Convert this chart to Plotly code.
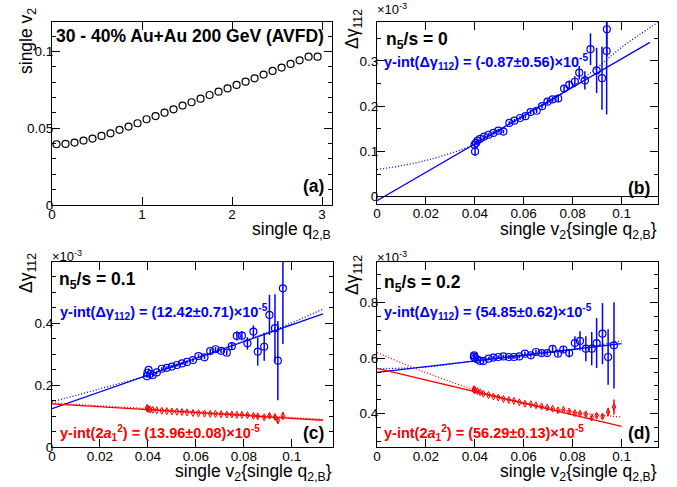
import plotly.graph_objects as go

W, H = 677, 487
FONT = "Liberation Sans, Arial, sans-serif"
BLUE = "rgb(0,0,255)"
RED = "rgb(255,0,0)"

# ---------------- panel (a) ----------------
q2B = [0.05, 0.15, 0.25, 0.35, 0.45, 0.55, 0.65, 0.75, 0.85, 0.95,
       1.05, 1.15, 1.25, 1.35, 1.45, 1.55, 1.65, 1.75, 1.85, 1.95,
       2.05, 2.15, 2.25, 2.35, 2.45, 2.55, 2.65, 2.75, 2.85, 2.95]
v2_a = [0.0396, 0.0398, 0.0407, 0.0420, 0.0433, 0.0450, 0.0467, 0.0490, 0.0511, 0.0533,
        0.0559, 0.0580, 0.0602, 0.0624, 0.0648, 0.0670, 0.0693, 0.0717, 0.0739, 0.0760,
        0.0783, 0.0804, 0.0826, 0.0850, 0.0874, 0.0896, 0.0920, 0.0943, 0.0967, 0.0967]

# ---------------- panel (b) n5/s = 0 (units of 1e-3) ----------------
x_b = [0.0399, 0.0401, 0.0405, 0.0411, 0.0422, 0.0438, 0.0456, 0.0476, 0.0496, 0.0517,
       0.0541, 0.0562, 0.0585, 0.0607, 0.0628, 0.0653, 0.0675, 0.0697, 0.0718, 0.0741,
       0.0765, 0.0786, 0.0809, 0.0827, 0.0850, 0.0873, 0.0898, 0.0920, 0.0939, 0.0940]
dg_b = [0.115, 0.100, 0.119, 0.124, 0.128, 0.133, 0.137, 0.141, 0.146, 0.144,
        0.163, 0.168, 0.174, 0.178, 0.187, 0.190, 0.200, 0.210, 0.215, 0.217,
        0.239, 0.247, 0.254, 0.274, 0.257, 0.326, 0.279, 0.262, 0.322, 0.370]
dg_b_err = [0.004, 0.010, 0.004, 0.004, 0.004, 0.004, 0.004, 0.004, 0.004, 0.004,
            0.004, 0.004, 0.004, 0.005, 0.005, 0.005, 0.005, 0.006, 0.006, 0.008,
            0.008, 0.010, 0.012, 0.015, 0.020, 0.035, 0.050, 0.070, 0.140, 0.060]
fit_b_lin_x = [0.0, 0.1116]
fit_b_lin_y = [-0.0087, 0.341]
fit_b_curve_x = [0.0, 0.02, 0.04, 0.05, 0.06, 0.07, 0.08, 0.09, 0.10, 0.1148]
fit_b_curve_y = [0.060, 0.080, 0.116, 0.146, 0.177, 0.209, 0.244, 0.285, 0.330, 0.385]

# ---------------- panel (c) n5/s = 0.1 ----------------
x_c = [0.0396, 0.0398, 0.0403, 0.0410, 0.0420, 0.0437, 0.0458, 0.0479, 0.0500, 0.0521,
       0.0542, 0.0563, 0.0588, 0.0611, 0.0636, 0.0660, 0.0682, 0.0705, 0.0729, 0.0750,
       0.0771, 0.0792, 0.0815, 0.0840, 0.0858, 0.0885, 0.0907, 0.0930, 0.0942, 0.0963]
dg_c = [0.229, 0.240, 0.249, 0.236, 0.232, 0.241, 0.253, 0.256, 0.260, 0.265,
        0.270, 0.275, 0.281, 0.294, 0.290, 0.310, 0.316, 0.311, 0.305, 0.326,
        0.359, 0.360, 0.335, 0.373, 0.308, 0.324, 0.427, 0.384, 0.279, 0.513]
dg_c_err = [0.005, 0.005, 0.005, 0.005, 0.005, 0.005, 0.005, 0.005, 0.005, 0.005,
            0.005, 0.005, 0.006, 0.006, 0.006, 0.007, 0.007, 0.008, 0.008, 0.010,
            0.015, 0.015, 0.020, 0.020, 0.045, 0.045, 0.065, 0.110, 0.128, 0.180]
a1_c = [0.126, 0.124, 0.123, 0.121, 0.120, 0.119, 0.117, 0.116, 0.115, 0.114,
        0.113, 0.112, 0.110, 0.109, 0.108, 0.107, 0.107, 0.106, 0.105, 0.105,
        0.104, 0.104, 0.103, 0.101, 0.099, 0.096, 0.101, 0.097, 0.086, 0.101]
a1_c_err = [0.002, 0.002, 0.002, 0.002, 0.002, 0.002, 0.002, 0.002, 0.002, 0.002,
            0.002, 0.002, 0.002, 0.002, 0.002, 0.003, 0.003, 0.003, 0.003, 0.003,
            0.003, 0.004, 0.004, 0.004, 0.005, 0.005, 0.006, 0.008, 0.010, 0.012]
fit_c_dg_lin_x = [0.0, 0.113]
fit_c_dg_lin_y = [0.1242, 0.430]
fit_c_dg_curve_x = [0.0, 0.02, 0.04, 0.06, 0.08, 0.095, 0.113]
fit_c_dg_curve_y = [0.146, 0.188, 0.232, 0.286, 0.342, 0.385, 0.446]
fit_c_a1_lin_x = [0.0, 0.113]
fit_c_a1_lin_y = [0.1396, 0.0865]
fit_c_a1_curve_x = [0.0, 0.04, 0.113]
fit_c_a1_curve_y = [0.142, 0.124, 0.089]

# ---------------- panel (d) n5/s = 0.2 ----------------
x_d = [0.0396, 0.0397, 0.0401, 0.0411, 0.0422, 0.0435, 0.0456, 0.0476, 0.0496, 0.0517,
       0.0539, 0.0560, 0.0582, 0.0605, 0.0629, 0.0650, 0.0673, 0.0696, 0.0718, 0.0740,
       0.0762, 0.0786, 0.0809, 0.0830, 0.0854, 0.0878, 0.0898, 0.0922, 0.0945, 0.0969]
dg_d = [0.605, 0.610, 0.600, 0.595, 0.590, 0.590, 0.598, 0.602, 0.604, 0.606,
        0.604, 0.604, 0.606, 0.616, 0.610, 0.622, 0.618, 0.618, 0.633, 0.616,
        0.631, 0.618, 0.654, 0.662, 0.634, 0.634, 0.654, 0.688, 0.604, 0.646]
dg_d_err = [0.006, 0.006, 0.006, 0.006, 0.006, 0.006, 0.006, 0.006, 0.006, 0.006,
            0.007, 0.007, 0.007, 0.008, 0.008, 0.008, 0.009, 0.009, 0.010, 0.010,
            0.012, 0.015, 0.025, 0.035, 0.045, 0.060, 0.090, 0.110, 0.100, 0.155]
a1_d = [0.488, 0.486, 0.484, 0.481, 0.477, 0.472, 0.467, 0.462, 0.458, 0.453,
        0.449, 0.446, 0.441, 0.436, 0.434, 0.430, 0.426, 0.422, 0.418, 0.412,
        0.414, 0.408, 0.402, 0.400, 0.398, 0.386, 0.393, 0.390, 0.406, 0.424]
a1_d_err = [0.003, 0.003, 0.003, 0.003, 0.003, 0.003, 0.003, 0.003, 0.003, 0.003,
            0.003, 0.003, 0.003, 0.003, 0.003, 0.003, 0.004, 0.004, 0.004, 0.004,
            0.004, 0.005, 0.005, 0.005, 0.006, 0.006, 0.007, 0.008, 0.015, 0.027]
fit_d_dg_lin_x = [0.0, 0.1]
fit_d_dg_lin_y = [0.5485, 0.652]
fit_d_dg_curve_x = [0.0, 0.02, 0.04, 0.06, 0.08, 0.1]
fit_d_dg_curve_y = [0.562, 0.568, 0.590, 0.608, 0.630, 0.662]
fit_d_a1_lin_x = [0.0, 0.1]
fit_d_a1_lin_y = [0.5629, 0.354]
fit_d_a1_curve_x = [0.0, 0.02, 0.04, 0.06, 0.08, 0.1]
fit_d_a1_curve_y = [0.620, 0.548, 0.486, 0.440, 0.407, 0.388]

fig = go.Figure()


def pts(x, y, err, color, sym, size, xa, ya, lw=1.2):
    kw = {}
    if err is not None:
        kw["error_y"] = dict(type="data", array=err, color=color, thickness=1.5, width=0)
    fig.add_trace(go.Scatter(x=x, y=y, mode="markers", xaxis=xa, yaxis=ya,
                             marker=dict(symbol=sym, size=size, color=color,
                                         line=dict(width=lw, color=color)),
                             showlegend=False, **kw))


def line(x, y, color, dash, xa, ya, shape="linear"):
    fig.add_trace(go.Scatter(x=x, y=y, mode="lines", xaxis=xa, yaxis=ya,
                             line=dict(color=color, width=1.3, dash=dash, shape=shape),
                             showlegend=False, hoverinfo="skip"))


DOT = "1px,2px"
# (a)
pts(q2B, v2_a, None, "black", "circle-open", 7, "x", "y")
# (b)
line(fit_b_curve_x, fit_b_curve_y, BLUE, DOT, "x2", "y2", "spline")
line(fit_b_lin_x, fit_b_lin_y, BLUE, "solid", "x2", "y2")
pts(x_b, dg_b, dg_b_err, BLUE, "circle-open", 7, "x2", "y2")
# (c)
line(fit_c_dg_curve_x, fit_c_dg_curve_y, BLUE, DOT, "x3", "y3", "spline")
line(fit_c_dg_lin_x, fit_c_dg_lin_y, BLUE, "solid", "x3", "y3")
line(fit_c_a1_curve_x, fit_c_a1_curve_y, RED, DOT, "x3", "y3", "spline")
line(fit_c_a1_lin_x, fit_c_a1_lin_y, RED, "solid", "x3", "y3")
pts(x_c, dg_c, dg_c_err, BLUE, "circle-open", 7, "x3", "y3")
pts(x_c, a1_c, a1_c_err, RED, "diamond-tall-open", 5, "x3", "y3", lw=1)
# (d)
line(fit_d_dg_curve_x, fit_d_dg_curve_y, BLUE, DOT, "x4", "y4", "spline")
line(fit_d_dg_lin_x, fit_d_dg_lin_y, BLUE, "solid", "x4", "y4")
line(fit_d_a1_curve_x, fit_d_a1_curve_y, RED, DOT, "x4", "y4", "spline")
line(fit_d_a1_lin_x, fit_d_a1_lin_y, RED, "solid", "x4", "y4")
pts(x_d, dg_d, dg_d_err, BLUE, "circle-open", 7, "x4", "y4")
pts(x_d, a1_d, a1_d_err, RED, "diamond-tall-open", 5, "x4", "y4", lw=1)


def dom_x(l, r):
    return [l / W, r / W]


def dom_y(t, b):
    return [1 - b / H, 1 - t / H]


def axis(domain, rng, dtick, anchor, minor=None, tick0=0, standoff=0, **extra):
    d = dict(domain=domain, range=rng, dtick=dtick, tick0=tick0, anchor=anchor,
             showline=True, linecolor="black", linewidth=1, mirror="allticks",
             ticks="inside", ticklen=8, tickwidth=1, tickcolor="black",
             showgrid=False, zeroline=False, automargin=False,
             ticklabelstandoff=standoff,
             tickfont=dict(family=FONT, size=13.5, color="black"))
    if minor is not None:
        d["minor"] = dict(dtick=minor, tick0=tick0, ticks="inside", ticklen=4,
                          tickcolor="black", tickwidth=1, showgrid=False)
    d.update(extra)
    return d


XS, YS = -3, -5
fig.update_layout(
    width=W, height=H,
    margin=dict(l=0, r=0, t=0, b=0, pad=0, autoexpand=False),
    paper_bgcolor="white", plot_bgcolor="white",
    hovermode=False,
    xaxis=axis(dom_x(52, 332), [0, 3.11], 1, "y", standoff=XS),
    yaxis=axis(dom_y(22, 205), [0, 0.1193], 0.05, "x", minor=0.01, standoff=YS),
    xaxis2=axis(dom_x(377, 658), [0, 0.1149], 0.02, "y2", standoff=XS),
    yaxis2=axis(dom_y(22, 204), [-0.016, 0.386], 0.1, "x2", minor=0.05, standoff=YS,
                zeroline=True, zerolinecolor="black", zerolinewidth=1),
    xaxis3=axis(dom_x(52, 333), [0, 0.1172], 0.02, "y3", standoff=XS),
    yaxis3=axis(dom_y(262, 447), [0, 0.598], 0.2, "x3", minor=0.05, standoff=YS),
    xaxis4=axis(dom_x(377, 658), [0, 0.1149], 0.02, "y4", standoff=XS),
    yaxis4=axis(dom_y(262, 447), [0.28, 0.946], 0.2, "x4", minor=0.05, standoff=YS),
)


def ann(text, x, y, xanchor="left", yanchor="middle", size=17.5, color="black", angle=0):
    fig.add_annotation(text=text, x=x / W, y=1 - y / H, xref="paper", yref="paper",
                       xanchor=xanchor, yanchor=yanchor, showarrow=False,
                       textangle=angle, borderpad=0,
                       font=dict(family=FONT, size=size, color=color))


TS = 17.5
BS = 14.5
# panel (a)
ann("<b>30 - 40% Au+Au 200 GeV (AVFD)</b>", 55, 36, size=TS)
ann("<b>(a)</b>", 325, 186, xanchor="right", size=TS)
ann("single v<sub>2</sub>", 27, 7, xanchor="center", yanchor="top", size=TS, angle=-90)
ann("single q<sub>2,B</sub>", 332, 218, xanchor="right", yanchor="top", size=TS)

# panel (b)
ann("×10<sup>-3</sup>", 376, 9, size=13)
ann("Δγ<sub>112</sub>", 353, 8, xanchor="center", yanchor="top", size=TS, angle=-90)
ann("<b>n<sub>5</sub>/s = 0</b>", 385, 40, size=TS)
ann("<b>y-int(Δγ<sub>112</sub>) = (-0.87±0.56)×10<sup>-5</sup></b>", 383, 62, size=BS, color=BLUE)
ann("<b>(b)</b>", 651, 188, xanchor="right", size=TS)
ann("single v<sub>2</sub>{single q<sub>2,B</sub>}", 658, 218, xanchor="right", yanchor="top", size=TS)

# panel (c)
ann("×10<sup>-3</sup>", 51, 256, size=13)
ann("Δγ<sub>112</sub>", 27, 252, xanchor="center", yanchor="top", size=TS, angle=-90)
ann("<b>n<sub>5</sub>/s = 0.1</b>", 58, 280, size=TS)
ann("<b>y-int(Δγ<sub>112</sub>) = (12.42±0.71)×10<sup>-5</sup></b>", 59, 312, size=BS, color=BLUE)
ann("<b>y-int(2<i>a</i><sub>1</sub><sup>2</sup>) = (13.96±0.08)×10<sup>-5</sup></b>", 59, 433, size=BS, color=RED)
ann("<b>(c)</b>", 325, 433, xanchor="right", size=TS)
ann("single v<sub>2</sub>{single q<sub>2,B</sub>}", 333, 460, xanchor="right", yanchor="top", size=TS)

# panel (d)
ann("×10<sup>-3</sup>", 376, 257, size=13)
ann("Δγ<sub>112</sub>", 353, 254, xanchor="center", yanchor="top", size=TS, angle=-90)
ann("<b>n<sub>5</sub>/s = 0.2</b>", 383, 283, size=TS)
ann("<b>y-int(Δγ<sub>112</sub>) = (54.85±0.62)×10<sup>-5</sup></b>", 383, 312, size=BS, color=BLUE)
ann("<b>y-int(2<i>a</i><sub>1</sub><sup>2</sup>) = (56.29±0.13)×10<sup>-5</sup></b>", 383, 433, size=BS, color=RED)
ann("<b>(d)</b>", 651, 433, xanchor="right", size=TS)
ann("single v<sub>2</sub>{single q<sub>2,B</sub>}", 658, 460, xanchor="right", yanchor="top", size=TS)

fig.write_html("out.html",
               config={"displayModeBar": False},
               post_script="document.body.style.margin='0px';document.body.style.padding='0px';")
